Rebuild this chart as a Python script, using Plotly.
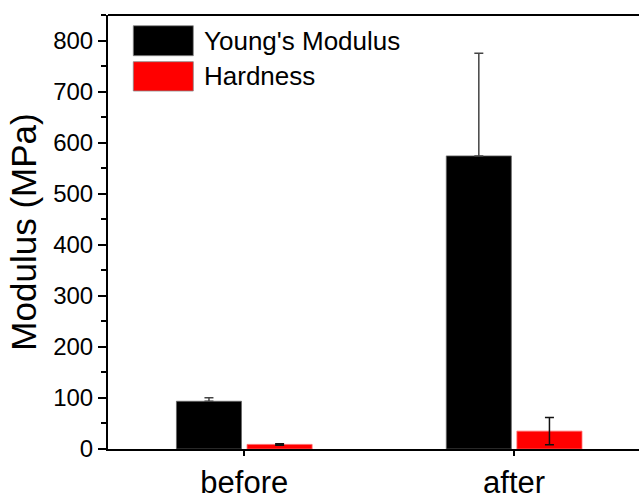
import plotly.graph_objects as go

categories = ["before", "after"]
series_names = ["Young's Modulus", "Hardness"]
youngs = [93.5, 574]
youngs_err = [7, 201]
hardness = [9, 35]
hardness_err = [1.5, 26.5]
y_ticks = [0, 100, 200, 300, 400, 500, 600, 700, 800]
series_colors = ["#000000", "#ff0000"]

fig = go.Figure()
fig.add_trace(go.Bar(
    x=categories, y=youngs, name=series_names[0],
    marker=dict(color=series_colors[0], line=dict(color="#666666", width=0.8)),
    error_y=dict(type="data", symmetric=False, array=youngs_err, arrayminus=[0 for _ in youngs_err],
                 color="#444444", thickness=1.5, width=4.5),
))
fig.add_trace(go.Bar(
    x=categories, y=hardness, name=series_names[1],
    marker=dict(color=series_colors[1], line=dict(color="#ff6666", width=0.8)),
    error_y=dict(type="data", array=hardness_err, color="#111111", thickness=1.5, width=4.5),
))

font_family = "Liberation Sans, Arial, sans-serif"

# the reference's frame runs past the right edge of the picture, so the figure is a bit wider
fig.update_layout(
    width=655, height=495,
    margin=dict(l=108, r=0, t=15, b=46, autoexpand=False),
    paper_bgcolor="white", plot_bgcolor="white",
    barmode="group", bargap=0.4765, bargroupgap=0.079,
    showlegend=False,
    font=dict(family=font_family, color="black"),
)
fig.update_xaxes(
    range=[-0.505, 1.522], showline=True, linecolor="black", linewidth=2, mirror=False,
    ticks="outside", ticklen=5, tickwidth=2, tickcolor="black",
    tickfont=dict(size=31, family=font_family), showgrid=False, zeroline=False,
)
fig.update_yaxes(
    range=[0, 850], tickvals=y_ticks, showline=True, linecolor="black", linewidth=2,
    ticks="outside", ticklen=8, tickwidth=2, tickcolor="black",
    minor=dict(ticks="outside", ticklen=5, tickwidth=2, tickcolor="black", dtick=50, showgrid=False),
    tickfont=dict(size=24, family=font_family), showgrid=False, zeroline=False,
    title=dict(text="Modulus (MPa)", font=dict(size=35, family=font_family), standoff=6),
)

# top frame line
fig.add_shape(type="line", xref="paper", yref="paper", x0=0, x1=1, y0=1, y1=1,
              line=dict(color="black", width=2))

# custom legend (large swatches as in the reference); plot area is 547 px wide
pw = 547.0
legend_rows = [(0.9753, 0.9062), (0.8924, 0.8249)]
for name, color, (y1, y0) in zip(series_names, series_colors, legend_rows):
    fig.add_shape(type="rect", xref="paper", yref="paper", x0=25.3 / pw, x1=85.3 / pw, y0=y0, y1=y1,
                  fillcolor=color, line=dict(color="#888888", width=0.8))
    fig.add_annotation(xref="paper", yref="paper", x=93.5 / pw, y=(y0 + y1) / 2, text=name,
                       showarrow=False, xanchor="left", yanchor="middle",
                       font=dict(size=26, family=font_family, color="black"))

fig.write_html("out.html", config={"displayModeBar": False, "staticPlot": True},
               post_script="document.documentElement.style.overflow='hidden';document.body.style.margin='0';document.body.style.overflow='hidden';")
